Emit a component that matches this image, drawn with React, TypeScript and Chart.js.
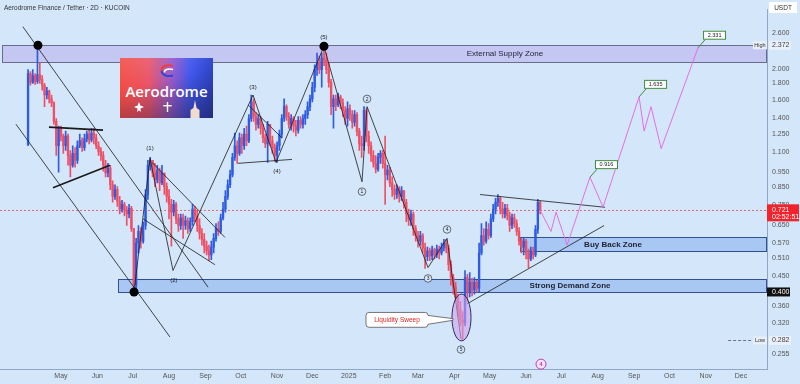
import React, { useEffect, useRef } from 'react';
import { Chart, registerables } from 'chart.js';
Chart.register(...registerables);

// ---------- DATA ----------
// 2D candles; x = days from 2024-05-01
const startDay = -28;
const firstOpen = 1.157;
const closes = [
  1.934, 1.816, 1.908, 1.829, 1.921, 1.855, 1.778, 1.657, 1.705, 1.611,
  1.566, 1.370, 1.149, 1.304, 1.233, 1.149, 1.233, 1.071, 0.998, 1.087,
  1.034, 1.149, 1.190, 1.133, 1.207, 1.250, 1.199, 1.259, 1.216, 1.149,
  1.102, 1.071, 0.998, 0.944, 0.978, 0.867, 0.797, 0.837, 0.769, 0.727,
  0.753, 0.722, 0.702, 0.732, 0.632, 0.420, 0.569, 0.619, 0.577, 0.646,
  0.808, 0.998, 1.034, 0.944, 0.898, 0.964, 0.879, 0.944, 0.855, 0.797,
  0.753, 0.712, 0.753, 0.678, 0.646, 0.683, 0.646, 0.669, 0.632, 0.664,
  0.727, 0.692, 0.646, 0.610, 0.585, 0.557, 0.538, 0.523, 0.553, 0.589,
  0.632, 0.619, 0.683, 0.727, 0.797, 0.867, 0.931, 1.056, 1.149, 1.087,
  1.216, 1.149, 1.250, 1.190, 1.399, 1.577, 1.419, 1.341, 1.399, 1.304,
  1.216, 1.165, 1.341, 1.190, 1.133, 1.071, 1.149, 1.250, 1.399, 1.523,
  1.419, 1.341, 1.399, 1.323, 1.286, 1.380, 1.341, 1.399, 1.439, 1.523,
  1.611, 1.753, 1.990, 2.090, 1.990, 2.165, 2.135, 1.990, 1.816, 1.523,
  1.611, 1.544, 1.634, 1.566, 1.480, 1.399, 1.502, 1.439, 1.360, 1.439,
  1.277, 1.165, 1.149, 1.480, 1.233, 1.149, 1.071, 1.012, 0.971, 1.056,
  1.087, 1.012, 0.931, 0.964, 0.879, 0.837, 0.808, 0.843, 0.797, 0.831,
  0.764, 0.702, 0.673, 0.702, 0.632, 0.601, 0.577, 0.601, 0.549, 0.516,
  0.538, 0.519, 0.542, 0.523, 0.545, 0.530, 0.553, 0.569, 0.549, 0.487,
  0.444, 0.414, 0.386, 0.352, 0.328, 0.320, 0.444, 0.400, 0.429, 0.406,
  0.429, 0.411, 0.530, 0.601, 0.577, 0.628, 0.601, 0.678, 0.727, 0.764,
  0.786, 0.727, 0.702, 0.732, 0.692, 0.646, 0.683, 0.655, 0.619, 0.577,
  0.553, 0.577, 0.530, 0.508, 0.538, 0.523, 0.628, 0.764, 0.721,
];
const highs = [
  1.990, 1.962, 1.990, 1.934, 2.372, 2.090, 1.908, 1.803, 1.753, 1.717,
  1.657, 1.577, 1.399, 1.323, 1.323, 1.250, 1.277, 1.250, 1.110, 1.149,
  1.133, 1.190, 1.250, 1.216, 1.250, 1.277, 1.286, 1.304, 1.304, 1.250,
  1.182, 1.133, 1.102, 1.034, 1.012, 0.998, 0.892, 0.867, 0.855, 0.797,
  0.775, 0.764, 0.742, 0.753, 0.742, 0.632, 0.589, 0.646, 0.637, 0.664,
  0.837, 1.034, 1.056, 1.034, 1.012, 0.998, 0.978, 0.998, 0.944, 0.879,
  0.837, 0.780, 0.775, 0.764, 0.702, 0.702, 0.702, 0.692, 0.683, 0.683,
  0.753, 0.742, 0.722, 0.678, 0.632, 0.610, 0.577, 0.561, 0.577, 0.610,
  0.655, 0.664, 0.702, 0.764, 0.831, 0.898, 0.964, 1.087, 1.259, 1.190,
  1.259, 1.250, 1.304, 1.323, 1.439, 1.657, 1.611, 1.460, 1.439, 1.419,
  1.341, 1.250, 1.370, 1.341, 1.233, 1.165, 1.182, 1.286, 1.439, 1.611,
  1.544, 1.460, 1.439, 1.419, 1.380, 1.419, 1.419, 1.439, 1.480, 1.577,
  1.657, 1.816, 2.061, 2.243, 2.196, 2.243, 2.355, 2.243, 2.090, 1.855,
  1.657, 1.657, 1.681, 1.657, 1.611, 1.523, 1.577, 1.544, 1.480, 1.480,
  1.460, 1.304, 1.233, 1.523, 1.502, 1.277, 1.182, 1.110, 1.071, 1.087,
  1.110, 1.110, 1.233, 0.998, 0.984, 0.918, 0.867, 0.867, 0.855, 0.855,
  0.831, 0.780, 0.727, 0.722, 0.712, 0.646, 0.619, 0.619, 0.610, 0.569,
  0.553, 0.549, 0.557, 0.549, 0.561, 0.557, 0.569, 0.585, 0.585, 0.561,
  0.501, 0.454, 0.429, 0.394, 0.373, 0.347, 0.467, 0.454, 0.460, 0.441,
  0.444, 0.435, 0.569, 0.655, 0.632, 0.664, 0.655, 0.702, 0.753, 0.786,
  0.808, 0.797, 0.764, 0.753, 0.753, 0.712, 0.702, 0.702, 0.673, 0.637,
  0.589, 0.593, 0.585, 0.545, 0.553, 0.553, 0.646, 0.780, 0.769,
];
const lows = [
  1.149, 1.778, 1.803, 1.790, 1.803, 1.803, 1.716, 1.523, 1.611, 1.566,
  1.523, 1.341, 1.071, 0.950, 1.190, 1.087, 1.110, 0.998, 0.918, 0.984,
  0.984, 1.012, 1.133, 1.102, 1.110, 1.182, 1.165, 1.182, 1.165, 1.125,
  1.071, 1.034, 0.957, 0.918, 0.918, 0.837, 0.764, 0.780, 0.742, 0.702,
  0.712, 0.692, 0.646, 0.683, 0.619, 0.400, 0.406, 0.530, 0.549, 0.569,
  0.628, 0.780, 0.964, 0.918, 0.855, 0.879, 0.831, 0.867, 0.808, 0.764,
  0.678, 0.557, 0.692, 0.655, 0.619, 0.628, 0.589, 0.628, 0.610, 0.619,
  0.646, 0.664, 0.619, 0.585, 0.561, 0.530, 0.523, 0.501, 0.505, 0.530,
  0.577, 0.601, 0.610, 0.673, 0.712, 0.780, 0.849, 0.918, 1.034, 1.012,
  1.071, 1.087, 1.118, 1.149, 1.174, 1.370, 1.370, 1.286, 1.304, 1.250,
  1.174, 1.133, 1.019, 1.149, 1.087, 1.027, 1.019, 1.110, 1.216, 1.370,
  1.380, 1.304, 1.286, 1.268, 1.233, 1.259, 1.304, 1.304, 1.341, 1.399,
  1.480, 1.577, 1.693, 1.908, 1.934, 1.753, 2.047, 1.934, 1.753, 1.439,
  1.304, 1.480, 1.523, 1.502, 1.419, 1.341, 1.323, 1.380, 1.304, 1.323,
  1.233, 1.110, 1.056, 1.110, 1.182, 1.087, 1.027, 0.984, 0.944, 0.957,
  1.012, 0.978, 0.753, 0.898, 0.855, 0.797, 0.780, 0.786, 0.764, 0.775,
  0.732, 0.664, 0.646, 0.646, 0.601, 0.577, 0.553, 0.561, 0.530, 0.474,
  0.501, 0.501, 0.505, 0.508, 0.512, 0.508, 0.523, 0.538, 0.530, 0.467,
  0.420, 0.394, 0.373, 0.335, 0.313, 0.282, 0.313, 0.373, 0.386, 0.389,
  0.394, 0.400, 0.400, 0.523, 0.561, 0.569, 0.585, 0.593, 0.664, 0.702,
  0.742, 0.702, 0.683, 0.683, 0.673, 0.619, 0.632, 0.637, 0.601, 0.561,
  0.530, 0.523, 0.508, 0.477, 0.501, 0.508, 0.516, 0.610, 0.702,
];

const monthDays = [0, 31, 61, 92, 123, 153, 184, 214, 245, 276, 304, 335, 365, 396, 426, 457, 488, 518, 549, 579];
const monthLabels = ['May', 'Jun', 'Jul', 'Aug', 'Sep', 'Oct', 'Nov', 'Dec', '2025', 'Feb', 'Mar', 'Apr', 'May', 'Jun', 'Jul', 'Aug', 'Sep', 'Oct', 'Nov', 'Dec'];
const priceTicks = [2.6, 2.0, 1.8, 1.6, 1.4, 1.25, 1.1, 0.95, 0.85, 0.75, 0.65, 0.57, 0.51, 0.45, 0.36, 0.32, 0.255];

const lastPrice = 0.721;
const highPrice = 2.372;
const lowPrice = 0.282;
const keyLevel = 0.4;

// projected path (pink)
const projDays = [408, 417.2, 421.5, 430.9, 450.4, 461.5, 492.2, 496.5, 502.4, 511.0, 542.4];
const projPrices = [0.721, 0.619, 0.712, 0.561, 0.916, 0.738, 1.635, 1.277, 1.523, 1.125, 2.331];
const targetDays = [450.4, 492.2, 542.4];
const targetPrices = [0.916, 1.635, 2.331];

// zones
const zoneNames = ['External Supply Zone', 'Buy Back Zone', 'Strong Demand Zone'];
const zoneFrom = [-50.2, 390.8, 48.5];
const zoneBottom = [2.105, 0.537, 0.4];
const zoneTop = [2.372, 0.593, 0.438];
const zoneLabelDay = [378, 470, 433.4];

// trend lines: day1, price1, day2, price2
const lineD1 = [-32.4, -38.3, -10.2, -6.8, 62.2, 75.8, 95.4, 163.5, 183.1, 77.5, 69.8, 150.7, 159.2, 223.9, 256.3, 260.6, 312.5, 328.7, 356.8, 345.7];
const lineP1 = [2.712, 1.342, 1.314, 0.849, 0.400, 1.049, 0.467, 1.657, 1.019, 1.019, 0.678, 1.012, 1.544, 2.355, 0.886, 1.523, 0.477, 0.589, 0.808, 0.367];
const lineD2 = [125.2, 92.8, 35.8, 41.7, 75.8, 95.4, 163.5, 183.1, 223.9, 139.6, 131.1, 196.7, 188.2, 256.3, 260.6, 312.5, 328.7, 340.6, 463.2, 462.4];
const lineP2 = [0.414, 0.289, 1.286, 0.998, 1.049, 0.467, 1.657, 1.019, 2.355, 0.593, 0.487, 1.041, 1.216, 0.886, 1.523, 0.477, 0.589, 0.285, 0.737, 0.646];
const thickLines = [2, 3];

const waveParenText = ['(1)', '(2)', '(3)', '(4)', '(5)'];
const waveParenDay = [75.8, 96.2, 163.5, 183.9, 223.9];
const waveParenPrice = [1.125, 0.435, 1.753, 0.957, 2.51];
const waveCircText = ['1', '2', '3', '4', '5'];
const waveCircDay = [256.3, 260.6, 312.5, 328.7, 340.6];
const waveCircPrice = [0.825, 1.611, 0.441, 0.628, 0.264];

const dotDays = [-19.6, 62.2, 223.9];
const dotPrices = [2.372, 0.400, 2.355];

// ---------- STYLE ----------
const BG = '#d4e6fa';
const UP = '#2d5be3';
const DOWN = '#ef4f63';
const AX = '#8fa6c4';
const FONT = "'Liberation Sans', Arial, sans-serif";

const opens = closes.map((c, i) => (i === 0 ? firstOpen : closes[i - 1]));
const days = closes.map((_, i) => startDay + 2 * i);

function txt(ctx: CanvasRenderingContext2D, s: string, x: number, y: number, font: string, color: string, align: CanvasTextAlign = 'center') {
  ctx.font = font;
  ctx.fillStyle = color;
  ctx.textAlign = align;
  ctx.textBaseline = 'middle';
  ctx.fillText(s, x, y);
}

const annotPlugin = {
  id: 'annot',
  beforeDatasetsDraw(chart: any) {
    const { ctx, chartArea: a } = chart;
    const X = (v: number) => chart.scales.x.getPixelForValue(v);
    const Y = (v: number) => chart.scales.y.getPixelForValue(v);
    ctx.save();
    const fills = ['#c4c7f1', '#a9c7f3', '#a9c7f3'];
    const strokes = ['#6a6d8a', '#34508c', '#34508c'];
    for (let i = 0; i < zoneNames.length; i++) {
      const x0 = Math.round(X(zoneFrom[i]));
      const y0 = Math.round(Y(zoneTop[i]));
      const y1 = Math.round(Y(zoneBottom[i]));
      ctx.fillStyle = fills[i];
      ctx.fillRect(x0, y0, a.right - x0, y1 - y0);
      ctx.strokeStyle = strokes[i];
      ctx.lineWidth = 1;
      ctx.strokeRect(x0 + 0.5, y0 + 0.5, a.right - x0 - 1, y1 - y0);
    }
    ctx.strokeStyle = '#e46a78';
    ctx.setLineDash([2, 2]);
    const py = Math.round(Y(lastPrice)) + 0.5;
    ctx.beginPath(); ctx.moveTo(a.left, py); ctx.lineTo(a.right, py); ctx.stroke();
    ctx.strokeStyle = '#6d7480';
    ctx.setLineDash([3, 2]);
    const hy = Math.round(Y(highPrice)) + 0.5;
    ctx.beginPath(); ctx.moveTo(X(575), hy); ctx.lineTo(a.right - 14, hy); ctx.stroke();
    const ly = Math.round(Y(lowPrice)) + 0.5;
    ctx.beginPath(); ctx.moveTo(X(568), ly); ctx.lineTo(a.right - 14, ly); ctx.stroke();
    ctx.setLineDash([]);
    ctx.restore();
  },
  afterDatasetsDraw(chart: any) {
    const { ctx, chartArea: a } = chart;
    const X = (v: number) => chart.scales.x.getPixelForValue(v);
    const Y = (v: number) => chart.scales.y.getPixelForValue(v);
    ctx.save();
    for (let i = 0; i < zoneNames.length; i++) {
      const ym = Y(Math.sqrt(zoneTop[i] * zoneBottom[i]));
      txt(ctx, zoneNames[i], X(zoneLabelDay[i]), ym + 0.5, `${i === 0 ? '' : 'bold '}8px ${FONT}`, '#1d2233');
    }
    for (const [lbl, p] of [['High', highPrice], ['Low', lowPrice]] as [string, number][]) {
      const y = Y(p);
      ctx.fillStyle = '#e8eff9';
      ctx.fillRect(a.right - 14, y - 4, 14, 8);
      txt(ctx, lbl, a.right - 7, y, `5.5px ${FONT}`, '#333');
    }
    for (let i = 0; i < waveParenText.length; i++) {
      txt(ctx, waveParenText[i], X(waveParenDay[i]), Y(waveParenPrice[i]), `6px ${FONT}`, '#222');
    }
    for (let i = 0; i < waveCircText.length; i++) {
      const cx = X(waveCircDay[i]), cy = Y(waveCircPrice[i]);
      ctx.beginPath(); ctx.arc(cx, cy, 3.8, 0, Math.PI * 2);
      ctx.fillStyle = BG; ctx.fill();
      ctx.strokeStyle = '#333'; ctx.lineWidth = 0.7; ctx.stroke();
      txt(ctx, waveCircText[i], cx, cy + 0.3, `5px ${FONT}`, '#222');
    }
    ctx.fillStyle = '#000';
    for (let i = 0; i < dotDays.length; i++) {
      ctx.beginPath(); ctx.arc(X(dotDays[i]), Y(dotPrices[i]), 4.5, 0, Math.PI * 2); ctx.fill();
    }
    const ex0 = X(332.9), ex1 = X(349.1), ey0 = Y(0.394), ey1 = Y(0.281);
    ctx.beginPath();
    ctx.ellipse((ex0 + ex1) / 2, (ey0 + ey1) / 2, (ex1 - ex0) / 2, (ey1 - ey0) / 2, 0, 0, Math.PI * 2);
    ctx.fillStyle = 'rgba(205,160,235,0.6)'; ctx.fill();
    ctx.strokeStyle = '#2b2f5c'; ctx.lineWidth = 1; ctx.stroke();
    const bx0 = X(259.7), bx1 = X(312.5), by0 = Y(0.345), by1 = Y(0.310);
    const tx = X(333.8), ty = Y(0.328);
    ctx.beginPath();
    ctx.moveTo(bx0 + 3, by0);
    ctx.lineTo(bx1 - 3, by0);
    ctx.quadraticCurveTo(bx1, by0, bx1, by0 + 3);
    ctx.lineTo(tx, ty - 0.8);
    ctx.lineTo(tx, ty + 0.8);
    ctx.lineTo(bx1, by1 - 3);
    ctx.quadraticCurveTo(bx1, by1, bx1 - 3, by1);
    ctx.lineTo(bx0 + 3, by1);
    ctx.quadraticCurveTo(bx0, by1, bx0, by1 - 3);
    ctx.lineTo(bx0, by0 + 3);
    ctx.quadraticCurveTo(bx0, by0, bx0 + 3, by0);
    ctx.closePath();
    ctx.fillStyle = '#ffffff'; ctx.fill();
    ctx.strokeStyle = '#555'; ctx.lineWidth = 0.8; ctx.stroke();
    txt(ctx, 'Liquidity Sweep', (bx0 + bx1) / 2, (by0 + by1) / 2, `6.5px ${FONT}`, '#e01e1e');
    for (let i = 0; i < targetDays.length; i++) {
      const px = X(targetDays[i]), py = Y(targetPrices[i]);
      ctx.strokeStyle = '#3b8a3e'; ctx.lineWidth = 1;
      ctx.beginPath(); ctx.moveTo(px, py); ctx.lineTo(px + 7, py - 8); ctx.stroke();
      ctx.fillStyle = '#ffffff';
      ctx.fillRect(px + 5, py - 17, 23, 9);
      ctx.strokeRect(px + 5.5, py - 16.5, 22, 8);
      txt(ctx, targetPrices[i].toFixed(3), px + 16.5, py - 12.3, `5.5px ${FONT}`, '#222');
    }
    const mx = X(408.7), my = Y(0.2376);
    ctx.beginPath(); ctx.arc(mx, my, 5, 0, Math.PI * 2);
    ctx.fillStyle = '#f1e3f5'; ctx.fill();
    ctx.strokeStyle = '#c43cb4'; ctx.lineWidth = 1; ctx.stroke();
    txt(ctx, '4', mx, my + 0.3, `bold 6px ${FONT}`, '#c43cb4');
    ctx.restore();
  },
  afterDraw(chart: any) {
    const { ctx, chartArea: a } = chart;
    const Y = (v: number) => chart.scales.y.getPixelForValue(v);
    ctx.save();
    txt(ctx, 'Aerodrome Finance / Tether · 2D · KUCOIN', 4, 8, `6.5px ${FONT}`, '#333', 'left');
    ctx.fillStyle = '#ffffff';
    ctx.fillRect(769, 2, 28, 11);
    txt(ctx, 'USDT', 783, 8, `6.5px ${FONT}`, '#333');
    for (const p of [highPrice, lowPrice]) {
      const y = Y(p);
      ctx.fillStyle = '#e9f0fa';
      ctx.fillRect(a.right + 2, y - 4.5, 22, 9);
      txt(ctx, p.toFixed(3), a.right + 5, y, `7px ${FONT}`, '#444', 'left');
    }
    const ky = Y(keyLevel);
    ctx.fillStyle = '#111';
    ctx.fillRect(a.right, ky - 4.5, 23, 9);
    txt(ctx, keyLevel.toFixed(3), a.right + 5, ky, `7px ${FONT}`, '#fff', 'left');
    const py = Y(lastPrice);
    ctx.fillStyle = '#f2232d';
    ctx.fillRect(a.right, py - 6, 32, 17);
    txt(ctx, lastPrice.toFixed(3), a.right + 5, py - 0.5, `7px ${FONT}`, '#fff', 'left');
    txt(ctx, '02:52:51', a.right + 5, py + 6.5, `7px ${FONT}`, '#fff', 'left');
    ctx.restore();
  },
};

function Logo() {
  return (
    <div
      style={{
        position: 'absolute', left: 120, top: 58, width: 93, height: 60, overflow: 'hidden',
        background:
          'linear-gradient(165deg, rgba(255,255,255,0.12) 0%, rgba(0,0,0,0) 40%, rgba(20,20,55,0.5) 100%), linear-gradient(90deg, #f24a42 0%, #ea5466 30%, #9a5bc8 55%, #4158ee 76%, #2f45c8 100%)',
      }}
    >
      <svg width="93" height="60" style={{ position: 'absolute', left: 0, top: 0 }}>
        <path d="M53 8 C46 6 41 9 41.5 13" stroke="#ef3d3d" strokeWidth="2" fill="none" />
        <path d="M53 11.5 C47.5 10 44 12 44.5 14.5" stroke="#ffffff" strokeWidth="1.6" fill="none" />
        <path d="M41.5 13 C42.5 17.5 47.5 19 53 17.5" stroke="#2c49d8" strokeWidth="2" fill="none" />
        <path d="M19 44 L20.4 47.6 L24 49 L20.4 50.4 L21 54 L19 52.2 L17 54 L17.6 50.4 L14 49 L17.6 47.6 Z" fill="#fff" />
        <rect x="46.8" y="44" width="1.4" height="10" fill="#fff" />
        <rect x="43.3" y="47" width="8.4" height="1.4" fill="#fff" />
        <path d="M75 42 L76.6 50 L79.5 52 L79.5 60 L70.5 60 L70.5 52 L73.4 50 Z" fill="#f1dccb" />
      </svg>
      <div
        style={{
          position: 'absolute', left: 0, top: 26, width: '100%', textAlign: 'center', color: '#fff',
          fontFamily: "'Open Sans', sans-serif", fontWeight: 600, fontSize: 15, lineHeight: '15px', letterSpacing: 0,
          whiteSpace: 'nowrap',
        }}
      >
        Aerodrome
      </div>
    </div>
  );
}

export default function App() {
  const ref = useRef<HTMLCanvasElement>(null);
  useEffect(() => {
    const up = closes.map((c, i) => c >= opens[i]);
    const colors = up.map((u) => (u ? UP : DOWN));
    const trendSets = lineD1.map((d, i) => ({
      type: 'line' as const,
      data: [{ x: d, y: lineP1[i] }, { x: lineD2[i], y: lineP2[i] }],
      borderColor: '#1a1a1a',
      borderWidth: thickLines.includes(i) ? 1.6 : 0.8,
      pointRadius: 0,
      order: 1,
    }));
    const chart = new Chart(ref.current!, {
      type: 'bar',
      data: {
        datasets: [
          {
            type: 'bar',
            data: days.map((d, i) => ({ x: d, y: [Math.min(lows[i], opens[i], closes[i]), Math.max(highs[i], opens[i], closes[i])] })),
            backgroundColor: colors,
            barThickness: 1,
            grouped: false,
            order: 3,
          } as any,
          {
            type: 'bar',
            data: days.map((d, i) => ({ x: d, y: [opens[i], closes[i]] })),
            backgroundColor: colors,
            barThickness: 1.7,
            minBarLength: 1,
            grouped: false,
            order: 2,
          } as any,
          {
            type: 'line',
            data: projDays.map((d, i) => ({ x: d, y: projPrices[i] })),
            borderColor: '#e56ee3',
            borderWidth: 1,
            pointRadius: 0,
            order: 0,
          } as any,
          ...trendSets,
        ],
      },
      options: {
        responsive: false,
        animation: false,
        events: [],
        layout: { padding: 0 },
        plugins: { legend: { display: false }, tooltip: { enabled: false } },
        scales: {
          x: {
            type: 'linear',
            min: -51.9,
            max: 601.1,
            offset: false,
            bounds: 'data',
            grid: { display: false, drawTicks: false },
            border: { display: true, color: AX },
            ticks: {
              autoSkip: false, maxRotation: 0, padding: 3, color: '#555',
              font: { size: 7, family: FONT },
              callback: (_v: any, i: number) => monthLabels[i],
            },
            afterBuildTicks: (s: any) => { s.ticks = monthDays.map((v) => ({ value: v })); },
            afterFit: (s: any) => { s.height = 15; },
          },
          y: {
            type: 'logarithmic',
            position: 'right',
            min: 0.2294,
            max: 3.078,
            bounds: 'data',
            grid: { display: false, drawTicks: false },
            border: { display: true, color: AX },
            ticks: {
              autoSkip: false, padding: 5, crossAlign: 'near', color: '#555',
              font: { size: 7, family: FONT },
              callback: (v: any) => Number(v).toFixed(3),
            },
            afterBuildTicks: (s: any) => { s.ticks = priceTicks.map((v) => ({ value: v })); },
            afterFit: (s: any) => { s.width = 33; },
          },
        },
      } as any,
      plugins: [annotPlugin],
    });
    return () => chart.destroy();
  }, []);
  return (
    <div style={{ position: 'fixed', left: 0, top: 0, width: 800, height: 384, background: BG, overflow: 'hidden' }}>
      <canvas ref={ref} width={800} height={384} style={{ position: 'absolute', left: 0, top: 0 }} />
      <Logo />
    </div>
  );
}
